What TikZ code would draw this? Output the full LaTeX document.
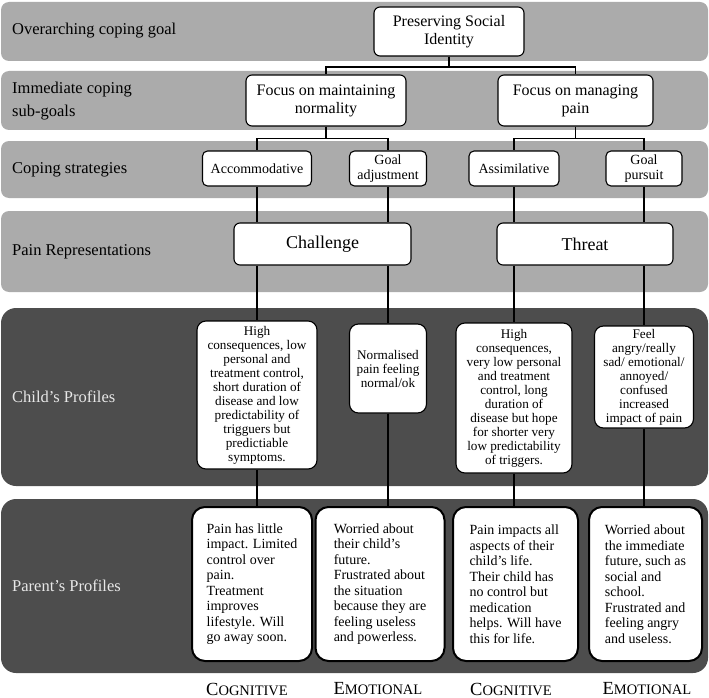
\documentclass[tikz,border=0pt]{standalone}
\usepackage{fontspec}
\setmainfont{Liberation Serif}
\definecolor{lightband}{HTML}{ABABAB}
\definecolor{darkband}{HTML}{4D4D4D}
\definecolor{paletext}{HTML}{E8E8E8}
\newcommand{\fakesc}[2]{{\fontsize{18.5}{20}\selectfont #1}{\fontsize{14.5}{20}\selectfont #2}}
\begin{document}
\begin{tikzpicture}[x=1pt,y=-1pt,
    lightrow/.style={fill=lightband, rounded corners=8pt},
    darkrow/.style={fill=darkband, rounded corners=15pt},
    rowlabel/.style={anchor=west, align=left, inner sep=0pt, font=\fontsize{16.5}{23}\selectfont},
    goalbox/.style={draw=black, fill=white, line width=1.1pt, rounded corners=6pt, align=center, inner sep=0pt, font=\fontsize{16}{18}\selectfont},
    stratbox/.style={draw=black, fill=white, line width=1.1pt, rounded corners=5pt, align=center, inner sep=0pt, minimum height=35pt, font=\fontsize{14}{15}\selectfont},
    childbox/.style={draw=black, fill=white, line width=1.1pt, rounded corners=9pt, align=center, inner xsep=3pt, inner ysep=0pt, font=\fontsize{13.2}{14}\selectfont},
    parentbox/.style={draw=black, fill=white, line width=2pt, rounded corners=13pt, align=left, inner xsep=4pt, inner ysep=0pt, minimum height=154pt, font=\fontsize{14}{15.5}\selectfont},
    conn/.style={draw=black, line width=1.2pt}]
\useasboundingbox (0,0) rectangle (709,698);

% background rows
\path[lightrow] (1,2) rectangle (708,61);
\path[lightrow] (1,71) rectangle (708,130);
\path[lightrow] (1,141) rectangle (708,198);
\path[lightrow] (1,211) rectangle (708,292);
\path[darkrow] (1,308) rectangle (708,486);
\path[darkrow] (1,499) rectangle (708,673);

% row labels
\node[rowlabel] (lgoal) at (12,31) {Overarching coping goal};
\node[rowlabel] (lsub) at (12,101) {Immediate coping\\sub-goals};
\node[rowlabel] (lstrat) at (12,170) {Coping strategies};
\node[rowlabel] (lrep) at (12,252) {Pain Representations};
\node[rowlabel, text=paletext] (lchild) at (12,397) {Child's Profiles};
\node[rowlabel, text=paletext] (lparent) at (12,586) {Parent's Profiles};

% goals
\node[goalbox, minimum width=150pt, minimum height=49pt] (psi) at (449,31.5) {Preserving Social\\Identity};
\node[goalbox, minimum width=160pt, minimum height=51pt] (norm) at (326,100.5) {Focus on maintaining\\normality};
\node[goalbox, minimum width=155pt, minimum height=51pt] (pain) at (575.5,100.5) {Focus on managing\\pain};

% strategies
\node[stratbox, minimum width=109pt] (acc) at (257,168.5) {Accommodative};
\node[stratbox, minimum width=77pt] (adj) at (388,168.5) {Goal\\adjustment};
\node[stratbox, minimum width=90pt] (assim) at (514,168.5) {Assimilative};
\node[stratbox, minimum width=76pt] (pursuit) at (644,168.5) {Goal\\pursuit};

% representations
\node[goalbox, minimum width=177pt, minimum height=42pt, font=\fontsize{18}{20}\selectfont] (chal) at (322.5,244) {Challenge};
\node[goalbox, minimum width=176pt, minimum height=42pt, font=\fontsize{18}{20}\selectfont] (threat) at (585,244) {Threat};

% child profiles
\node[childbox, minimum width=120pt, minimum height=148pt] (c1) at (257,395) {High\\consequences, low\\personal and\\treatment control,\\short duration of\\disease and low\\predictability of\\trigguers but\\predictiable\\symptoms.};
\node[childbox, minimum width=77pt, minimum height=89pt] (c2) at (388,368.5) {Normalised\\pain feeling\\normal/ok};
\node[childbox, minimum width=116pt, minimum height=150pt] (c3) at (514,398) {High\\consequences,\\very low personal\\and treatment\\control, long\\duration of\\disease but hope\\for shorter very\\low predictability\\of triggers.};
\node[childbox, minimum width=99pt, minimum height=102pt] (c4) at (644,377) {Feel\\angry/really\\sad/ emotional/\\annoyed/\\confused\\increased\\impact of pain};

% parent profiles
\node[parentbox, minimum width=120pt] (p1) at (252,584) {Pain has little\\impact. Limited\\control over\\pain.\\Treatment\\improves\\lifestyle. Will\\go away soon.};
\node[parentbox, minimum width=129pt] (p2) at (380,584) {Worried about\\their child’s\\future.\\Frustrated about\\the situation\\because they are\\feeling useless\\and powerless.};
\node[parentbox, minimum width=125pt] (p3) at (515.5,584) {Pain impacts all\\aspects of their\\child’s life.\\Their child has\\no control but\\medication\\helps. Will have\\this for life.};
\node[parentbox, minimum width=113pt] (p4) at (645.5,584) {Worried about\\the immediate\\future, such as\\social and\\school.\\Frustrated and\\feeling angry\\and useless.};

% column labels
\node (cog1) at (247,689) {\fakesc{C}{OGNITIVE}};
\node (emo1) at (378,689) {\fakesc{E}{MOTIONAL}};
\node (cog2) at (511,689) {\fakesc{C}{OGNITIVE}};
\node (emo2) at (647,689) {\fakesc{E}{MOTIONAL}};

% connectors
\draw[conn] (psi.south) -- ++(0,10.5) -| (norm.north);
\draw[conn] (psi.south) -- ++(0,10.5) -| (pain.north);
\draw[conn] (norm.south) -- ++(0,12) -| (acc.north);
\draw[conn] (norm.south) -- ++(0,12) -| (adj.north);
\draw[conn] (pain.south) -- ++(0,12) -| (assim.north);
\draw[conn] (pain.south) -- ++(0,12) -| (pursuit.north);
\draw[conn] (acc.south) -- (acc.south |- chal.north);
\draw[conn] (adj.south) -- (adj.south |- chal.north);
\draw[conn] (assim.south) -- (assim.south |- threat.north);
\draw[conn] (pursuit.south) -- (pursuit.south |- threat.north);
\draw[conn] (acc.south |- chal.south) -- (c1.north);
\draw[conn] (adj.south |- chal.south) -- (c2.north);
\draw[conn] (assim.south |- threat.south) -- (c3.north);
\draw[conn] (pursuit.south |- threat.south) -- (c4.north);
\draw[conn] (c1.south) -- (c1.south |- p1.north);
\draw[conn] (c2.south) -- (c2.south |- p2.north);
\draw[conn] (c3.south) -- (c3.south |- p3.north);
\draw[conn] (c4.south) -- (c4.south |- p4.north);
\end{tikzpicture}
\end{document}
